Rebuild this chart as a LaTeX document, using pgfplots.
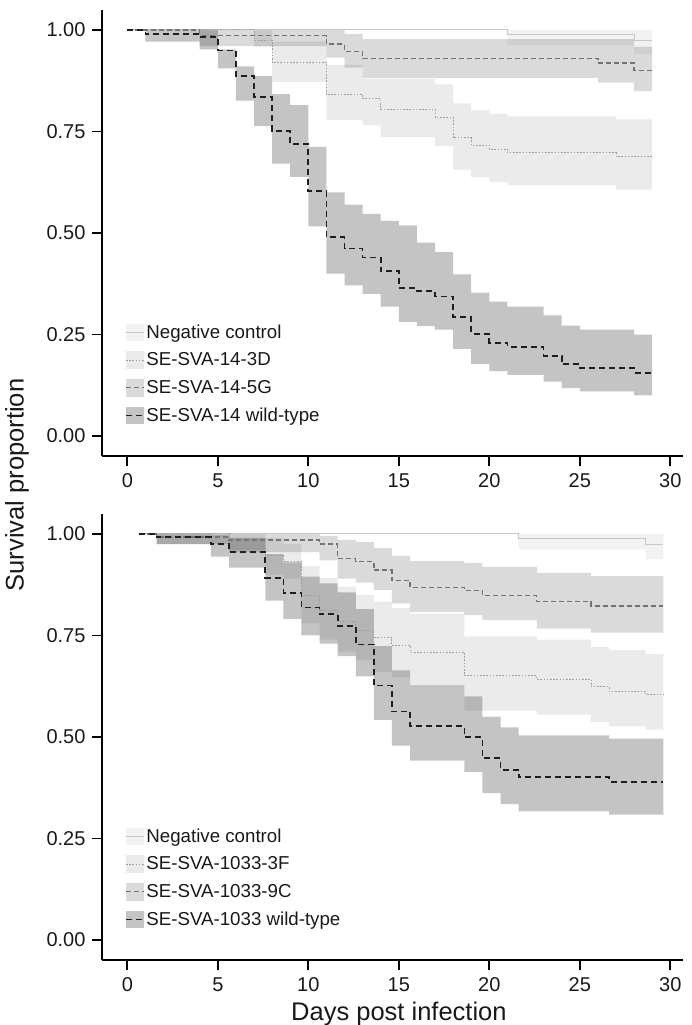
\documentclass[border=0pt]{standalone}
\usepackage{fontspec}
\setmainfont{Liberation Sans}
\usepackage{pgfplots}
\pgfplotsset{compat=1.18}
\usepackage{pgfplotstable}
\usepgfplotslibrary{fillbetween}

% ---------- top panel (SE-SVA-14) ----------
\pgfplotstableread{
t s lo hi
0 1 1 1
21 0.988 0.963 1.0
28 0.974 0.941 1.0
29 0.974 0.941 1.0
}\topnc
\pgfplotstableread{
t s lo hi
0 1 1 1
7 0.975 0.959 1.0
8 0.92 0.872 0.971
11 0.84 0.778 0.914
13 0.83 0.765 0.88
14 0.804 0.736 0.88
17 0.785 0.714 0.866
18 0.734 0.656 0.819
19 0.716 0.637 0.802
20 0.706 0.625 0.794
21 0.697 0.617 0.787
27 0.688 0.607 0.78
29 0.688 0.607 0.78
}\topa
\pgfplotstableread{
t s lo hi
0 1 1 1
4 0.986 0.96 1.0
11 0.965 0.932 1.0
12 0.947 0.907 0.99
13 0.929 0.882 0.977
26 0.919 0.87 0.977
28 0.90 0.849 0.958
29 0.90 0.849 0.958
}\topb
\pgfplotstableread{
t s lo hi
0 1 1 1
1 0.99 0.971 1.0
4 0.982 0.952 1.0
5 0.949 0.905 0.952
6 0.886 0.826 0.91
7 0.834 0.763 0.886
8 0.751 0.671 0.842
9 0.719 0.638 0.815
10 0.603 0.516 0.712
11 0.49 0.40 0.60
12 0.462 0.371 0.57
13 0.44 0.35 0.547
14 0.406 0.319 0.53
15 0.365 0.281 0.519
16 0.357 0.271 0.476
17 0.344 0.262 0.453
18 0.293 0.215 0.398
19 0.252 0.178 0.353
20 0.23 0.16 0.331
21 0.22 0.151 0.319
23 0.198 0.134 0.297
24 0.178 0.118 0.272
25 0.167 0.11 0.262
28 0.156 0.10 0.25
29 0.156 0.10 0.25
}\topwt

% ---------- bottom panel (SE-SVA-1033) ----------
\pgfplotstableread{
t s lo hi
0.62 1 1 1
21.62 0.988 0.962 1.0
28.65 0.975 0.938 1.0
29.62 0.975 0.938 1.0
}\botnc
\pgfplotstableread{
t s lo hi
0.62 1 1 1
5.62 0.985 0.96 1.0
7.62 0.946 0.90 0.99
8.62 0.933 0.89 0.975
9.62 0.848 0.78 0.921
10.62 0.812 0.74 0.891
11.62 0.785 0.71 0.87
12.62 0.763 0.689 0.85
13.62 0.745 0.66 0.833
14.62 0.726 0.647 0.817
15.62 0.709 0.625 0.804
18.62 0.651 0.565 0.748
22.62 0.642 0.555 0.74
25.62 0.624 0.537 0.722
26.62 0.613 0.526 0.714
28.62 0.605 0.518 0.704
29.62 0.605 0.518 0.704
}\bota
\pgfplotstableread{
t s lo hi
0.62 1 1 1
1.62 0.992 0.975 1.0
5.62 0.985 0.955 1.0
10.62 0.975 0.935 0.995
11.62 0.94 0.89 0.985
12.62 0.932 0.88 0.98
13.62 0.911 0.862 0.965
14.62 0.886 0.829 0.946
15.62 0.868 0.808 0.933
18.62 0.86 0.80 0.928
19.62 0.849 0.788 0.919
22.62 0.833 0.767 0.904
25.62 0.823 0.757 0.896
29.62 0.823 0.757 0.896
}\botb
\pgfplotstableread{
t s lo hi
0.62 1 1 1
1.62 0.992 0.975 1.0
4.62 0.975 0.944 0.998
5.62 0.955 0.917 0.99
7.62 0.892 0.836 0.95
8.62 0.855 0.791 0.93
9.62 0.819 0.75 0.895
10.62 0.802 0.73 0.878
11.62 0.774 0.699 0.856
12.62 0.728 0.649 0.815
13.62 0.627 0.542 0.724
14.62 0.563 0.479 0.664
15.62 0.527 0.442 0.627
18.62 0.50 0.414 0.60
19.62 0.448 0.362 0.55
20.62 0.419 0.335 0.524
21.62 0.401 0.317 0.504
26.62 0.39 0.309 0.496
29.62 0.39 0.309 0.496
}\botwt

\tikzset{
  ncline/.style={color=black!22, line width=1bp, solid},
  aline/.style={color=black!38, line width=1bp, dash pattern=on 1.6bp off 1.6bp},
  bline/.style={color=black!55, line width=1.4bp, dash pattern=on 5bp off 3bp},
  wtline/.style={color=black!88, line width=1.7bp, dash pattern=on 6bp off 4bp},
}

\pgfplotsset{
  kmaxis/.style={
    scale only axis, width=581bp, height=446bp,
    xmin=-1.4, xmax=30.7, ymin=-0.049, ymax=1.049,
    axis x line*=bottom, axis y line*=left,
    axis line style={-, line width=1.7bp, black},
    tick style={line width=1.7bp, black},
    tick align=outside, major tick length=10bp,
    xtick={0,5,10,15,20,25,30}, ytick={0,0.25,0.5,0.75,1},
    xticklabel style={yshift=-4bp},
    yticklabel style={xshift=-3bp, /pgf/number format/.cd, fixed, fixed zerofill, precision=2},
    /pgf/number format/assume math mode=true,
    tick label style={font=\fontsize{20bp}{24bp}\selectfont, text=black!90},
    legend style={at={(0.0396,0.07)}, anchor=south west, draw=none, fill=none,
      inner sep=0pt, row sep=10bp,
      font=\fontsize{18.7bp}{22bp}\selectfont,
      nodes={inner sep=1.5bp, text=black!90}},
    legend cell align=left,
  },
  band/.style={fill=black, fill opacity=#1, draw=none, forget plot},
  cp/.style={const plot, draw=none, forget plot},
}

\newcommand{\bands}[4]{%
  \addplot[cp, name path=ncH] table[x=t,y=hi]{#1};
  \addplot[cp, name path=ncL] table[x=t,y=lo]{#1};
  \addplot[band=0.05] fill between[of=ncH and ncL];
  \addplot[cp, name path=aH] table[x=t,y=hi]{#2};
  \addplot[cp, name path=aL] table[x=t,y=lo]{#2};
  \addplot[band=0.08] fill between[of=aH and aL];
  \addplot[cp, name path=bH] table[x=t,y=hi]{#3};
  \addplot[cp, name path=bL] table[x=t,y=lo]{#3};
  \addplot[band=0.145] fill between[of=bH and bL];
  \addplot[cp, name path=wH] table[x=t,y=hi]{#4};
  \addplot[cp, name path=wL] table[x=t,y=lo]{#4};
  \addplot[band=0.23] fill between[of=wH and wL];
}
\newcommand{\legimg}[2]{\path[draw=none,fill=black,fill opacity=#1] (0bp,-8.8bp) rectangle (18bp,8.8bp); \draw[#2] (0bp,0bp) -- (18bp,0bp);}

\begin{document}
\begin{tikzpicture}

\begin{axis}[kmaxis, at={(0bp,0bp)}, anchor=south west]
\bands{\topnc}{\topa}{\topb}{\topwt}
\addplot[ncline, const plot, legend image code/.code={\legimg{0.05}{ncline}}] table[x=t,y=s]{\topnc};
\addlegendentry{Negative control}
\addplot[aline, const plot, legend image code/.code={\legimg{0.08}{aline}}] table[x=t,y=s]{\topa};
\addlegendentry{SE-SVA-14-3D}
\addplot[bline, const plot, legend image code/.code={\legimg{0.145}{bline}}] table[x=t,y=s]{\topb};
\addlegendentry{SE-SVA-14-5G}
\addplot[wtline, const plot, legend image code/.code={\legimg{0.23}{wtline}}] table[x=t,y=s]{\topwt};
\addlegendentry{SE-SVA-14 wild-type}
\end{axis}

\begin{axis}[kmaxis, at={(0bp,-504bp)}, anchor=south west,
  xlabel={Days post infection},
  xlabel style={font=\fontsize{25.5bp}{30bp}\selectfont, text=black!90, at={(ticklabel cs:0.511)}, anchor=north, yshift=-3bp}]
\bands{\botnc}{\bota}{\botb}{\botwt}
\addplot[ncline, const plot, legend image code/.code={\legimg{0.05}{ncline}}] table[x=t,y=s]{\botnc};
\addlegendentry{Negative control}
\addplot[aline, const plot, legend image code/.code={\legimg{0.08}{aline}}] table[x=t,y=s]{\bota};
\addlegendentry{SE-SVA-1033-3F}
\addplot[bline, const plot, legend image code/.code={\legimg{0.145}{bline}}] table[x=t,y=s]{\botb};
\addlegendentry{SE-SVA-1033-9C}
\addplot[wtline, const plot, legend image code/.code={\legimg{0.23}{wtline}}] table[x=t,y=s]{\botwt};
\addlegendentry{SE-SVA-1033 wild-type}
\end{axis}

\node[rotate=90, font=\fontsize{25.5bp}{30bp}\selectfont, text=black!90] at (-85bp,-29bp) {Survival proportion};
\pgfresetboundingbox
\useasboundingbox (-102bp,-569bp) rectangle (590bp,456bp);
\end{tikzpicture}
\end{document}
